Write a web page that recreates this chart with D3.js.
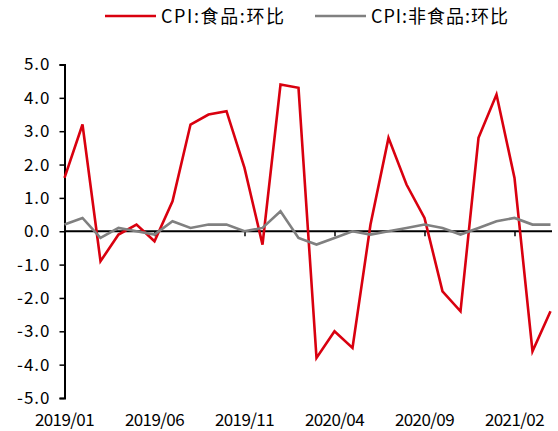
<!DOCTYPE html>
<html>
<head>
<meta charset="utf-8">
<script src="https://cdn.jsdelivr.net/npm/d3@7"></script>
<style>
  html, body { margin: 0; padding: 0; background: #fff; }
  svg text { font-family: "Noto Sans CJK SC", "DejaVu Sans", sans-serif; fill: #000; }
</style>
</head>
<body>
<svg id="chart" width="558" height="431"></svg>
<script>
const months = ["2019/01","2019/02","2019/03","2019/04","2019/05","2019/06","2019/07","2019/08","2019/09","2019/10","2019/11","2019/12",
                "2020/01","2020/02","2020/03","2020/04","2020/05","2020/06","2020/07","2020/08","2020/09","2020/10","2020/11","2020/12",
                "2021/01","2021/02","2021/03","2021/04"];
const foodMoM = [1.6, 3.2, -0.9, -0.1, 0.2, -0.3, 0.9, 3.2, 3.5, 3.6, 1.9, -0.4,
                 4.4, 4.3, -3.8, -3.0, -3.5, 0.2, 2.8, 1.4, 0.4, -1.8, -2.4, 2.8,
                 4.1, 1.6, -3.6, -2.4];
const nonFoodMoM = [0.2, 0.4, -0.2, 0.1, 0.0, -0.1, 0.3, 0.1, 0.2, 0.2, 0.0, 0.1,
                    0.6, -0.2, -0.4, -0.2, 0.0, -0.1, 0.0, 0.1, 0.2, 0.1, -0.1, 0.1,
                    0.3, 0.4, 0.2, 0.2];
const xTickLabels = ["2019/01","2019/06","2019/11","2020/04","2020/09","2021/02"];
const yTicks = [5, 4, 3, 2, 1, 0, -1, -2, -3, -4, -5];
const seriesNames = ["CPI:食品:环比", "CPI:非食品:环比"];
const seriesColors = ["#d9000f", "#808080"];

const svg = d3.select("#chart");
const x = d3.scalePoint().domain(months).range([64.5, 550.5]);
const y = d3.scaleLinear().domain([-5, 5]).range([398, 64.5]);

// Y axis
const yAxis = d3.axisLeft(y).tickValues(yTicks).tickSize(5).tickPadding(9)
  .tickFormat(d => d3.format(".1f")(d).replace("−", "-"));
const gy = svg.append("g").attr("transform", "translate(64.5,0)").call(yAxis);
gy.select(".domain").attr("stroke", "#000").attr("stroke-width", 2);
gy.selectAll(".tick line").attr("stroke", "#000").attr("stroke-width", 1.5);
gy.selectAll(".tick text").attr("font-size", 17).style("letter-spacing", "1px")
  .attr("font-family", "\"Noto Sans CJK SC\", sans-serif");

// X axis at zero
const xAxis = d3.axisBottom(x).tickValues(xTickLabels).tickSize(5).tickFormat("");
const gx = svg.append("g").attr("transform", `translate(0,${y(0)})`).call(xAxis);
gx.select(".domain").attr("stroke", "#000").attr("stroke-width", 2)
  .attr("d", `M${x(months[0])},0H${x(months[months.length-1]) + 1.5}`);
gx.selectAll(".tick line").attr("stroke", "#000").attr("stroke-width", 1.5);

// X labels at bottom
svg.append("g").selectAll("text").data(xTickLabels).join("text")
  .attr("x", d => x(d)).attr("y", 426)
  .attr("text-anchor", "middle").attr("font-size", 17)
  .style("letter-spacing", "-0.6px")
  .text(d => d);

// Lines
const line = d3.line().x((d, i) => x(months[i])).y(d => y(d));
[foodMoM, nonFoodMoM].forEach((s, k) => {
  svg.append("path").datum(s)
    .attr("fill", "none").attr("stroke", seriesColors[k])
    .attr("stroke-width", 2.6).attr("stroke-linejoin", "miter")
    .attr("d", line);
});

// Legend
const legendX = [105, 315];
const legendTextW = [123, 137];
const legend = svg.append("g");
seriesNames.forEach((name, k) => {
  legend.append("line")
    .attr("x1", legendX[k]).attr("x2", legendX[k] + 51)
    .attr("y1", 16).attr("y2", 16)
    .attr("stroke", seriesColors[k]).attr("stroke-width", 2.6);
  legend.append("text")
    .attr("x", legendX[k] + 56).attr("y", 23)
    .attr("font-size", 18)
    .attr("textLength", legendTextW[k]).attr("lengthAdjust", "spacing")
    .text(name);
});
</script>
</body>
</html>
